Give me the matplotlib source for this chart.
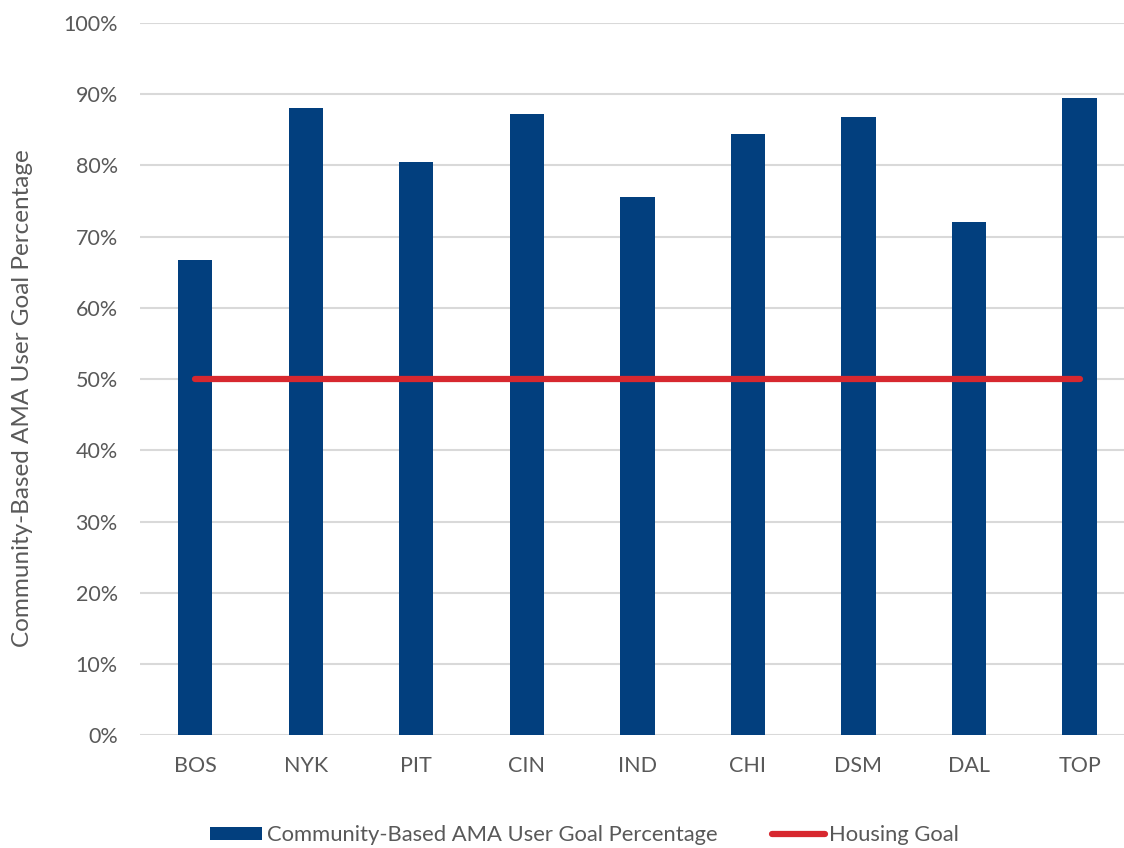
import matplotlib
matplotlib.use("Agg")
import matplotlib.pyplot as plt
from matplotlib.patches import Patch
from matplotlib.lines import Line2D
from matplotlib.ticker import PercentFormatter

# Data
cities = ["BOS", "NYK", "PIT", "CIN", "IND", "CHI", "DSM", "DAL", "TOP"]
user_goal_pct = [66.7, 88.1, 80.5, 87.2, 75.5, 84.4, 86.8, 72.1, 89.4]
housing_goal_pct = [50, 50, 50, 50, 50, 50, 50, 50, 50]
y_ticks = [0, 10, 20, 30, 40, 50, 60, 70, 80, 90, 100]

bar_color = "#023F7E"
line_color = "#D7282F"
text_color = "#595959"
grid_color = "#D9D9D9"

plt.rcParams["font.family"] = ["Lato", "DejaVu Sans"]

fig = plt.figure(figsize=(11.24, 8.48), dpi=100)
ax = fig.add_axes([0.1246, 0.1327, 0.885, 0.8405])

x = list(range(len(cities)))
ax.bar(x, user_goal_pct, width=0.31, color=bar_color, zorder=2,
       label="Community-Based AMA User Goal Percentage")
ax.plot(x, housing_goal_pct, color=line_color, lw=4.5, solid_capstyle="round",
        zorder=3, label="Housing Goal")

ax.set_xlim(-0.5, len(cities) - 0.5)
ax.set_ylim(0, 100)
ax.set_yticks(y_ticks)
ax.yaxis.set_major_formatter(PercentFormatter(decimals=0))
ax.set_xticks(x)
ax.set_xticklabels(cities)

ax.grid(axis="y", color=grid_color, lw=1.5, zorder=0)
ax.set_axisbelow(True)
for s in ax.spines.values():
    s.set_visible(False)
ax.tick_params(axis="both", length=0, labelsize=15.5, labelcolor=text_color)
ax.tick_params(axis="y", pad=16)
ax.tick_params(axis="x", pad=15)

fig.text(0.02, 0.531, "Community-Based AMA User Goal Percentage", rotation=90,
         ha="center", va="center", fontsize=17.5, color=text_color)

handles = [
    Patch(facecolor=bar_color, edgecolor="none"),
    Line2D([0], [0], color=line_color, lw=4.5, solid_capstyle="round"),
]
labels = ["Community-Based AMA User Goal Percentage", "Housing Goal"]
fig.legend(handles, labels, loc="center", bbox_to_anchor=(0.52, 0.015),
           ncol=2, frameon=False, fontsize=15.8, labelcolor=text_color,
           handlelength=2.4, handleheight=0.5, handletextpad=0.2,
           columnspacing=2.5)

fig.savefig("out.png", dpi=100)
